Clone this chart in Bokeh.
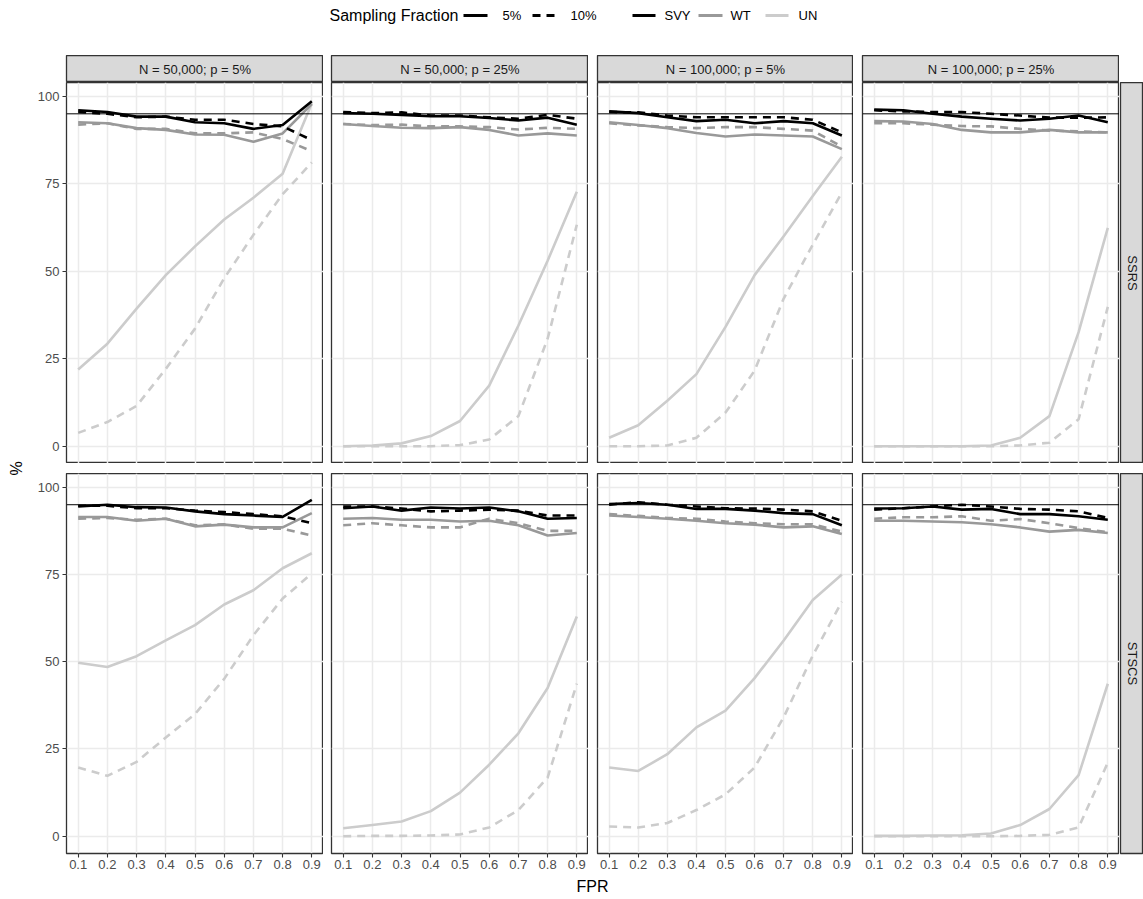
import math
from bokeh.plotting import figure
from bokeh.layouts import row, column
from bokeh.models import Range1d, FixedTicker, Span, Spacer, Grid
from bokeh.core.properties import value
from bokeh.embed import file_html
from bokeh.resources import INLINE

# ---------------- data ----------------
FPR = [0.1, 0.2, 0.3, 0.4, 0.5, 0.6, 0.7, 0.8, 0.9]
Y_TICKS = [0, 25, 50, 75, 100]
COL_LABELS = ["N = 50,000; p = 5%", "N = 50,000; p = 25%",
              "N = 100,000; p = 5%", "N = 100,000; p = 25%"]
ROW_LABELS = ["SSRS", "STSCS"]
METHODS = ["SVY", "WT", "UN"]
FRACTIONS = ["5%", "10%"]
NOMINAL = 95

# SSRS, N = 50,000; p = 5%
SSRS_50K_P5 = {
    "SVY 5%": [96.0, 95.5, 94.2, 94.2, 92.6, 92.3, 90.7, 91.8, 98.6],
    "SVY 10%": [95.5, 95.0, 94.0, 94.2, 93.3, 93.3, 92.1, 91.4, 87.5],
    "WT 5%": [92.6, 92.3, 90.9, 90.4, 89.1, 89.0, 87.0, 89.4, 97.8],
    "WT 10%": [91.9, 92.3, 90.7, 90.7, 89.4, 89.4, 89.7, 87.8, 84.3],
    "UN 5%": [21.9, 29.3, 39.3, 48.9, 57.1, 64.8, 71.0, 77.9, 98.0],
    "UN 10%": [3.8, 6.9, 11.5, 22.1, 33.6, 48.0, 60.4, 72.0, 81.1],
}
# SSRS, N = 50,000; p = 25%
SSRS_50K_P25 = {
    "SVY 5%": [95.2, 95.0, 94.7, 94.3, 94.3, 93.8, 93.1, 93.9, 91.9],
    "SVY 10%": [95.5, 95.2, 95.4, 94.5, 94.5, 94.0, 93.6, 94.7, 93.6],
    "WT 5%": [92.1, 91.5, 91.0, 90.9, 91.2, 90.4, 88.8, 89.4, 88.8],
    "WT 10%": [92.1, 91.8, 91.9, 91.4, 91.4, 91.2, 90.5, 91.0, 90.7],
    "UN 5%": [0.0, 0.2, 0.8, 2.9, 7.2, 17.3, 34.5, 53.0, 72.7],
    "UN 10%": [0.0, 0.0, 0.0, 0.0, 0.3, 1.9, 8.6, 30.7, 63.3],
}
# SSRS, N = 100,000; p = 5%
SSRS_100K_P5 = {
    "SVY 5%": [95.7, 95.2, 94.0, 92.9, 93.3, 92.3, 92.9, 92.3, 88.8],
    "SVY 10%": [95.5, 95.4, 94.5, 94.0, 94.0, 94.0, 94.0, 93.3, 89.7],
    "WT 5%": [92.6, 91.8, 90.9, 89.5, 88.5, 89.1, 88.8, 88.5, 84.9],
    "WT 10%": [92.3, 91.7, 91.2, 90.9, 91.2, 91.2, 90.7, 90.2, 85.6],
    "UN 5%": [2.4, 6.0, 13.0, 20.6, 34.1, 48.9, 60.0, 71.5, 82.7],
    "UN 10%": [0.0, 0.0, 0.2, 2.4, 9.6, 21.6, 42.2, 57.6, 72.5],
}
# SSRS, N = 100,000; p = 25%
SSRS_100K_P25 = {
    "SVY 5%": [96.2, 96.0, 95.0, 94.2, 93.6, 93.1, 93.6, 94.5, 92.6],
    "SVY 10%": [96.0, 95.7, 95.5, 95.5, 95.0, 94.5, 93.9, 93.9, 94.0],
    "WT 5%": [92.9, 92.8, 92.1, 90.4, 89.7, 89.7, 90.4, 89.7, 89.7],
    "WT 10%": [92.3, 92.3, 91.9, 91.5, 91.4, 90.7, 90.2, 90.0, 89.7],
    "UN 5%": [0.0, 0.0, 0.0, 0.0, 0.2, 2.4, 8.6, 32.6, 62.4],
    "UN 10%": [0.0, 0.0, 0.0, 0.0, 0.0, 0.2, 1.0, 7.7, 39.8],
}
# STSCS, N = 50,000; p = 5%
STSCS_50K_P5 = {
    "SVY 5%": [94.5, 95.0, 94.3, 94.2, 93.1, 92.3, 91.9, 91.5, 96.4],
    "SVY 10%": [94.7, 94.7, 94.0, 94.0, 93.3, 92.9, 92.3, 91.7, 89.7],
    "WT 5%": [91.5, 91.5, 90.4, 91.0, 88.8, 89.3, 88.5, 88.5, 92.6],
    "WT 10%": [91.0, 91.2, 90.7, 91.0, 89.1, 89.4, 88.1, 88.1, 86.2],
    "UN 5%": [49.7, 48.5, 51.6, 56.1, 60.5, 66.4, 70.5, 76.8, 81.1],
    "UN 10%": [19.7, 17.3, 21.3, 28.3, 35.0, 45.1, 57.6, 68.1, 75.3],
}
# STSCS, N = 50,000; p = 25%
STSCS_50K_P25 = {
    "SVY 5%": [94.0, 94.5, 93.3, 94.2, 93.9, 94.2, 93.1, 91.0, 91.2],
    "SVY 10%": [94.5, 94.5, 93.9, 93.1, 93.3, 93.6, 93.3, 91.9, 91.9],
    "WT 5%": [91.0, 91.2, 90.7, 90.7, 90.2, 90.4, 89.1, 86.2, 86.9],
    "WT 10%": [89.1, 89.7, 89.1, 88.5, 88.5, 91.0, 89.7, 87.5, 87.5],
    "UN 5%": [2.3, 3.2, 4.2, 7.2, 12.5, 20.5, 29.5, 42.5, 63.0],
    "UN 10%": [0.0, 0.1, 0.1, 0.2, 0.5, 2.5, 7.5, 16.8, 43.7],
}
# STSCS, N = 100,000; p = 5%
STSCS_100K_P5 = {
    "SVY 5%": [95.2, 95.5, 95.0, 93.8, 93.8, 93.3, 92.6, 92.3, 89.1],
    "SVY 10%": [95.0, 95.7, 95.0, 94.5, 94.0, 93.9, 93.6, 93.1, 90.4],
    "WT 5%": [91.9, 91.5, 91.0, 90.4, 89.7, 89.3, 88.5, 88.8, 86.6],
    "WT 10%": [92.3, 91.8, 91.2, 91.0, 90.2, 89.7, 89.4, 89.4, 87.3],
    "UN 5%": [19.7, 18.7, 23.5, 31.2, 36.0, 45.3, 56.1, 67.7, 75.0],
    "UN 10%": [2.8, 2.5, 3.8, 7.5, 12.0, 19.7, 34.1, 51.8, 67.2],
}
# STSCS, N = 100,000; p = 25%
STSCS_100K_P25 = {
    "SVY 5%": [93.9, 94.0, 94.5, 93.6, 93.8, 92.3, 92.3, 91.7, 90.7],
    "SVY 10%": [93.6, 94.0, 94.5, 95.0, 94.5, 93.8, 93.6, 93.1, 91.2],
    "WT 5%": [90.4, 90.4, 90.2, 90.0, 89.4, 88.5, 87.3, 87.8, 86.9],
    "WT 10%": [91.0, 91.4, 91.4, 91.7, 90.4, 90.9, 89.7, 88.3, 87.1],
    "UN 5%": [0.1, 0.1, 0.2, 0.3, 0.8, 3.2, 7.8, 17.5, 43.7],
    "UN 10%": [0.0, 0.0, 0.0, 0.0, 0.0, 0.1, 0.4, 2.5, 21.1],
}

PANELS = [
    [SSRS_50K_P5, SSRS_50K_P25, SSRS_100K_P5, SSRS_100K_P25],
    [STSCS_50K_P5, STSCS_50K_P25, STSCS_100K_P5, STSCS_100K_P25],
]

# ---------------- style ----------------
FONT = "Liberation Sans"
COLORS = {"SVY": "#000000", "WT": "#999999", "UN": "#CCCCCC"}
DASHES = {"5%": "solid", "10%": "8 6"}
LINE_W = 2.6

FRAME_W = [257, 257, 256, 257]
LEFT_GAP = [40, 8, 9, 9]
FRAME_H = [381, 380]
X_AXIS_H = 24
STRIP_H = 27
RSTRIP_W = 23


def style_grid(p):
    if len(p.xgrid) == 0:
        p.add_layout(Grid(dimension=0), "center")
    if len(p.ygrid) == 0:
        p.add_layout(Grid(dimension=1), "center")
    p.xgrid.ticker = FixedTicker(ticks=FPR)
    p.ygrid.ticker = FixedTicker(ticks=Y_TICKS)
    p.grid.grid_line_color = "#EBEBEB"
    p.grid.grid_line_width = 1.5
    p.grid.minor_grid_line_color = None


def style_axis(ax):
    ax.axis_line_color = None
    ax.major_tick_line_color = "#333333"
    ax.major_tick_line_width = 1.1
    ax.major_tick_out = 4
    ax.major_tick_in = 0
    ax.minor_tick_line_color = None
    ax.major_label_text_font = FONT
    ax.major_label_text_font_size = "13px"
    ax.major_label_text_color = "#4D4D4D"
    ax.major_label_standoff = 3


def make_panel(r, c):
    data = PANELS[r][c]
    bottom = X_AXIS_H if r == 1 else 0
    p = figure(width=LEFT_GAP[c] + FRAME_W[c], height=FRAME_H[r] + bottom,
               x_range=Range1d(0.06, 0.94), y_range=Range1d(-4.95, 103.95),
               x_axis_location="below" if r == 1 else None,
               y_axis_location="left" if c == 0 else None,
               min_border_left=LEFT_GAP[c], min_border_right=0,
               min_border_top=0, min_border_bottom=bottom,
               output_backend="svg", toolbar_location=None)
    p.outline_line_color = "#333333"
    p.outline_line_width = 1.3
    style_grid(p)
    if r == 1:
        p.xaxis.ticker = FixedTicker(ticks=FPR)
        style_axis(p.xaxis[0])
        p.xaxis.major_label_standoff = 2
    if c == 0:
        p.yaxis.ticker = FixedTicker(ticks=Y_TICKS)
        style_axis(p.yaxis[0])
    for m in ["UN", "WT", "SVY"]:
        for f in ["10%", "5%"]:
            p.line(FPR, data[f"{m} {f}"], line_color=COLORS[m], line_width=LINE_W,
                   line_dash=DASHES[f], line_join="round")
    p.add_layout(Span(location=NOMINAL, dimension="width", line_color="black",
                      line_width=1))
    return p


def make_strip(w, h, label, left=0, bottom=0, angle=0.0):
    s = figure(width=w + left, height=h + bottom, x_range=Range1d(0, 1), y_range=Range1d(0, 1),
               x_axis_location=None, y_axis_location=None,
               min_border_left=left, min_border_right=0, min_border_top=0,
               min_border_bottom=bottom, output_backend="svg", toolbar_location=None)
    s.grid.visible = False
    s.background_fill_color = "#D9D9D9"
    s.outline_line_color = "#333333"
    s.outline_line_width = 1.3
    s.text(x=[0.5], y=[0.5], text=[label], angle=angle, text_align="center",
           text_baseline="middle", text_font=value(FONT), text_font_size=value("13px"),
           text_color="#1A1A1A")
    return s


def blank_fig(w, h, xr, yr):
    f = figure(width=w, height=h, x_range=Range1d(*xr), y_range=Range1d(*yr),
               x_axis_location=None, y_axis_location=None,
               min_border=0, min_border_left=0, min_border_right=0,
               min_border_top=0, min_border_bottom=0,
               output_backend="svg", toolbar_location=None)
    f.grid.visible = False
    f.outline_line_color = None
    return f


# ---------------- legend ----------------
LEFT_W = 26
leg = blank_fig(1143 - LEFT_W, 55, (LEFT_W, 1143), (55, 0))
LY = 15
leg.text(x=[329], y=[LY], text=["Sampling Fraction"], text_align="left", text_baseline="middle",
         text_font=value(FONT), text_font_size=value("16px"), text_color="black")
key_specs = [
    (463, 487, "black", "solid", "5%", 502),
    (532, 557, "black", "8 6", "10%", 570),
    (632, 655, COLORS["SVY"], "solid", "SVY", 664),
    (698, 722, COLORS["WT"], "solid", "WT", 730),
    (765, 788, COLORS["UN"], "solid", "UN", 798),
]
for x0, x1, col, dash, lab, tx in key_specs:
    leg.segment(x0=[x0], y0=[LY], x1=[x1], y1=[LY], line_color=col, line_width=3,
                line_dash=dash)
    leg.text(x=[tx], y=[LY], text=[lab], text_align="left", text_baseline="middle",
             text_font=value(FONT), text_font_size=value("13px"), text_color="black")

# ---------------- y label ----------------
ylab = blank_fig(LEFT_W, 899, (0, LEFT_W), (899, 0))
ylab.text(x=[16], y=[468], text=["%"], angle=math.pi / 2, text_align="center",
          text_baseline="middle", text_font=value(FONT), text_font_size=value("16px"),
          text_color="black")

# ---------------- x label ----------------
XLAB_H = 899 - 55 - STRIP_H - FRAME_H[0] - 10 - FRAME_H[1] - X_AXIS_H
xlab = blank_fig(1143 - LEFT_W, XLAB_H, (LEFT_W, 1143), (899, 899 - XLAB_H))
xlab.text(x=[592], y=[886], text=["FPR"], text_align="center", text_baseline="middle",
          text_font=value(FONT), text_font_size=value("16px"), text_color="black")

# ---------------- assemble ----------------
strips = [make_strip(FRAME_W[c], STRIP_H, COL_LABELS[c], left=LEFT_GAP[c]) for c in range(4)]
strip_row = row(*strips, Spacer(width=RSTRIP_W + 1, height=STRIP_H))

top_row = row(*[make_panel(0, c) for c in range(4)],
              make_strip(RSTRIP_W, FRAME_H[0], ROW_LABELS[0], left=1, angle=-math.pi / 2))
bot_row = row(*[make_panel(1, c) for c in range(4)],
              make_strip(RSTRIP_W, FRAME_H[1], ROW_LABELS[1], left=1, bottom=X_AXIS_H,
                         angle=-math.pi / 2))

right = column(leg, strip_row, top_row, Spacer(width=1143 - LEFT_W, height=10), bot_row, xlab)
layout = row(ylab, right)

open("out.html", "w").write(file_html(layout, INLINE))
